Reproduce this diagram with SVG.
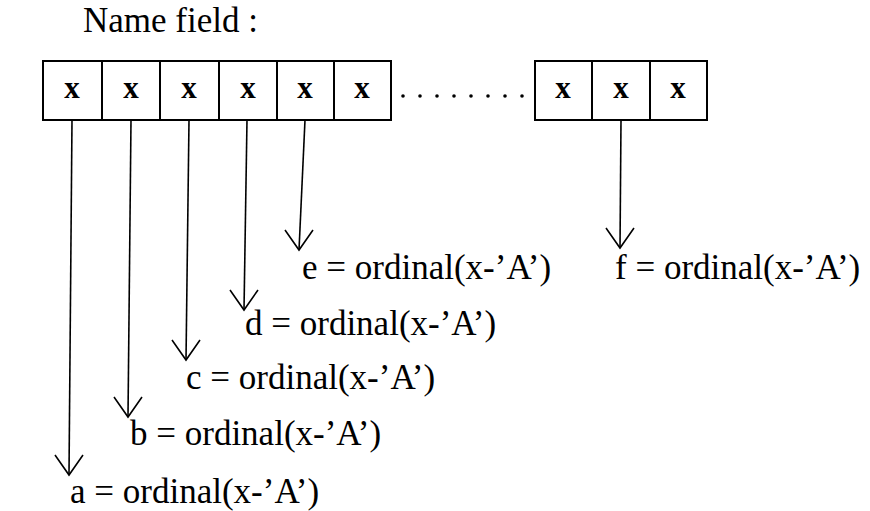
<svg xmlns="http://www.w3.org/2000/svg" width="870" height="511" viewBox="0 0 870 511">
<style>
.t{font-family:"Liberation Serif","Times New Roman",serif;font-size:35px;fill:#000}
.x{font-family:"Liberation Serif","Times New Roman",serif;font-size:31px;font-weight:bold;fill:#000;text-anchor:middle}
.box{fill:#fff;stroke:#000;stroke-width:2}
.ln{fill:none;stroke:#000;stroke-width:1.6}
.hd{fill:none;stroke:#000;stroke-width:1.6;stroke-linejoin:miter}
</style>
<rect width="870" height="511" fill="#fff"/>
<g id="title"><text class="t" x="83" y="32">Name field :</text></g>
<g id="field">
<rect class="box" x="43" y="61" width="59" height="59"/><text class="x" x="72" y="98">x</text>
<rect class="box" x="102" y="61" width="58" height="59"/><text class="x" x="131" y="98">x</text>
<rect class="box" x="160" y="61" width="59" height="59"/><text class="x" x="189" y="98">x</text>
<rect class="box" x="219" y="61" width="58" height="59"/><text class="x" x="248" y="98">x</text>
<rect class="box" x="277" y="61" width="57" height="59"/><text class="x" x="305" y="98">x</text>
<rect class="box" x="334" y="61" width="57" height="59"/><text class="x" x="362" y="98">x</text>
<g fill="#000">
<circle cx="403" cy="96" r="1.8"/><circle cx="420" cy="96" r="1.8"/><circle cx="437" cy="96" r="1.8"/><circle cx="454" cy="96" r="1.8"/><circle cx="471" cy="96" r="1.8"/><circle cx="488" cy="96" r="1.8"/><circle cx="505" cy="96" r="1.8"/><circle cx="522" cy="96" r="1.8"/>
</g>
<rect class="box" x="535" y="61" width="57" height="59"/><text class="x" x="563" y="98">x</text>
<rect class="box" x="592" y="61" width="58" height="59"/><text class="x" x="621" y="98">x</text>
<rect class="box" x="650" y="61" width="57" height="59"/><text class="x" x="678" y="98">x</text>
</g>
<g id="connectors">
<path class="ln" d="M72,120 L69,475"/><path class="hd" d="M55,455 L69,475 L83,455"/>
<path class="ln" d="M131,120 L128,417"/><path class="hd" d="M114,397 L128,417 L142,397"/>
<path class="ln" d="M189,120 L186,360"/><path class="hd" d="M172,340 L186,360 L200,340"/>
<path class="ln" d="M247,120 L244,310"/><path class="hd" d="M230,290 L244,310 L258,290"/>
<path class="ln" d="M305,120 L299,250"/><path class="hd" d="M285,230 L299,250 L313,230"/>
<path class="ln" d="M621,120 L620,248"/><path class="hd" d="M606,228 L620,248 L634,228"/>
</g>
<g id="label-a"><text class="t" x="70" y="503">a = ordinal(x-’A’)</text></g>
<g id="label-b"><text class="t" x="130" y="445">b = ordinal(x-’A’)</text></g>
<g id="label-c"><text class="t" x="186" y="389">c = ordinal(x-’A’)</text></g>
<g id="label-d"><text class="t" x="245" y="335">d = ordinal(x-’A’)</text></g>
<g id="label-e"><text class="t" x="302" y="279">e = ordinal(x-’A’)</text></g>
<g id="label-f"><text class="t" x="615" y="279">f = ordinal(x-’A’)</text></g>
</svg>
